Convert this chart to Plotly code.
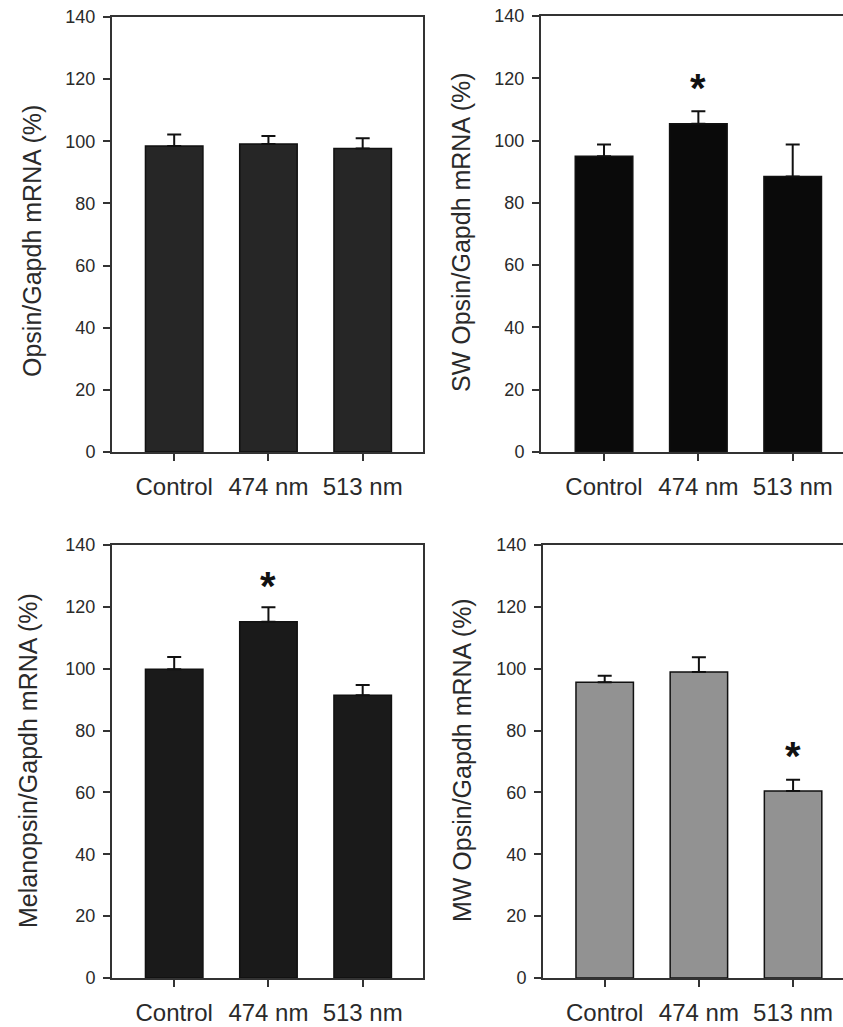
import plotly.graph_objects as go

categories = ["Control", "474 nm", "513 nm"]

opsin_mean = [98.5, 99.1, 97.7]
opsin_err = [3.7, 2.6, 3.3]
sw_mean = [95.0, 105.4, 88.5]
sw_err = [3.7, 4.0, 10.2]
mel_mean = [99.8, 115.2, 91.4]
mel_err = [4.0, 4.7, 3.3]
mw_mean = [95.6, 98.9, 60.5]
mw_err = [2.1, 4.8, 3.6]

y_ticks = [0, 20, 40, 60, 80, 100, 120, 140]

titles = ["Opsin/Gapdh mRNA (%)", "SW Opsin/Gapdh mRNA (%)",
          "Melanopsin/Gapdh mRNA (%)", "MW Opsin/Gapdh mRNA (%)"]

# significance markers: (panel index, category, y value)
stars = [(1, "474 nm", 118.8), (2, "474 nm", 128.7), (3, "513 nm", 73.8)]

W, H = 843, 1027
FONT = "Liberation Sans, Arial, sans-serif"
TXT = "#2a2a2a"
AX = "#333333"

panels = [
    dict(mean=opsin_mean, err=opsin_err, color="#262626",
         xdom=[112, 423], ydom=[17, 452], xr=[-0.66, 2.64], mirror_y=True,
         tx=32, ty=241),
    dict(mean=sw_mean, err=sw_err, color="#0a0a0a",
         xdom=[541, 843], ydom=[16, 452], xr=[-0.668, 2.533], mirror_y=False,
         tx=461, ty=232),
    dict(mean=mel_mean, err=mel_err, color="#1a1a1a",
         xdom=[112, 423], ydom=[545, 978], xr=[-0.66, 2.64], mirror_y=True,
         tx=28, ty=761),
    dict(mean=mw_mean, err=mw_err, color="#929292",
         xdom=[543, 843], ydom=[545, 978], xr=[-0.655, 2.53], mirror_y=False,
         tx=462, ty=760),
]

fig = go.Figure()
layout = dict(width=W, height=H, margin=dict(l=0, r=0, t=0, b=0, pad=0),
              autosize=False,
              paper_bgcolor="white", plot_bgcolor="white", showlegend=False,
              font=dict(family=FONT, color=TXT))
annotations = []

for i, p in enumerate(panels):
    n = "" if i == 0 else str(i + 1)
    fig.add_trace(go.Bar(
        x=categories, y=p["mean"], width=0.61,
        marker=dict(color=p["color"], line=dict(color="#111111", width=1.5)),
        error_y=dict(type="data", symmetric=False, array=p["err"],
                     arrayminus=[0, 0, 0], color="#111111", thickness=2, width=7),
        xaxis="x" + n, yaxis="y" + n, cliponaxis=False))
    layout["xaxis" + n] = dict(
        domain=[p["xdom"][0] / W, p["xdom"][1] / W], anchor="y" + n,
        range=p["xr"], type="category", automargin=False,
        showline=True, linecolor=AX, linewidth=2, mirror=True,
        ticks="outside", ticklen=7, tickwidth=2, tickcolor=AX,
        tickfont=dict(size=24, color=TXT, family=FONT), ticklabelstandoff=5,
        showgrid=False, zeroline=False, fixedrange=True)
    layout["yaxis" + n] = dict(
        domain=[1 - p["ydom"][1] / H, 1 - p["ydom"][0] / H], anchor="x" + n,
        range=[0, 140], tickvals=y_ticks, automargin=False,
        showline=True, linecolor=AX, linewidth=2, mirror=p["mirror_y"],
        ticks="outside", ticklen=7, tickwidth=2, tickcolor=AX,
        tickfont=dict(size=18, color=TXT, family=FONT), ticklabelstandoff=4,
        showgrid=False, zeroline=False, fixedrange=True)
    annotations.append(dict(
        text=titles[i], xref="paper", yref="paper",
        x=p["tx"] / W, y=1 - p["ty"] / H, xanchor="center", yanchor="middle",
        textangle=-90, showarrow=False,
        font=dict(size=25, color=TXT, family=FONT)))

for pi, cat, yv in stars:
    n = "" if pi == 0 else str(pi + 1)
    annotations.append(dict(
        text="<b>*</b>", x=cat, y=yv, xref="x" + n, yref="y" + n,
        xanchor="center", yanchor="middle", showarrow=False, yshift=-6,
        font=dict(size=40, color="#111111", family=FONT)))

layout["annotations"] = annotations
fig.update_layout(**layout)
fig.write_html(
    "out.html",
    config={"displayModeBar": False},
    post_script="document.body.style.margin='0';document.body.style.overflow='hidden';",
)
